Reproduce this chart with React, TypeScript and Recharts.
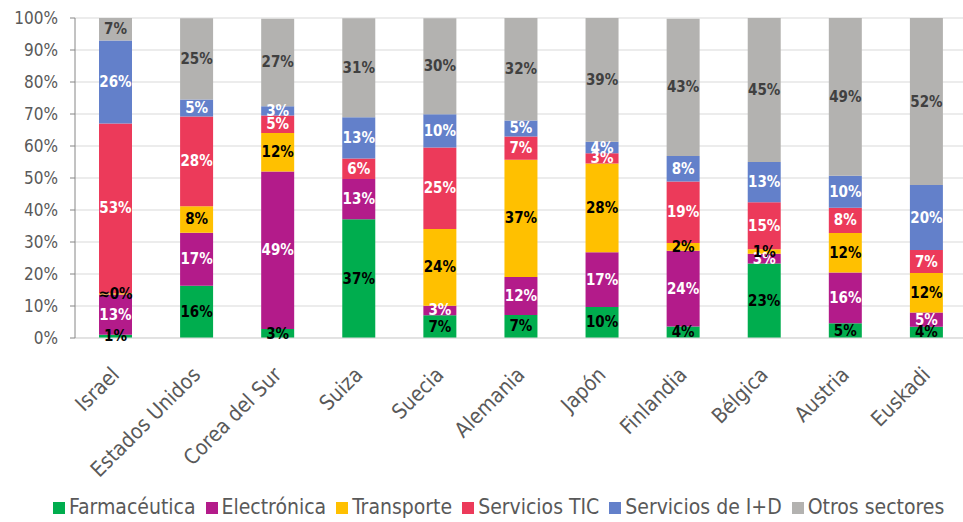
import React from 'react';
import {
  BarChart,
  Bar,
  XAxis,
  YAxis,
  CartesianGrid,
  Legend,
  LabelList
} from 'recharts';

const countries = [
  'Israel', 'Estados Unidos', 'Corea del Sur', 'Suiza', 'Suecia', 'Alemania',
  'Japón', 'Finlandia', 'Bélgica', 'Austria', 'Euskadi'
];

// shares in %
const farmaceutica = [1, 16.3, 2.8, 37.1, 7.1, 7.2, 9.7, 3.6, 23.3, 4.6, 3.5];
const electronica = [12.6, 16.6, 49.2, 12.6, 3, 11.9, 17.1, 23.7, 3, 15.9, 4.5];
const transporte = [0.4, 8.3, 12.1, 0, 24, 36.6, 27.7, 2.4, 1.4, 12.3, 12.3];
const serviciosTIC = [53, 28, 5.4, 6.4, 25.4, 7.3, 3.2, 19.2, 14.7, 7.9, 7.2];
const serviciosID = [26, 5.3, 2.9, 12.9, 10.4, 5, 3.6, 8, 12.6, 10, 20.3];
const otrosSectores = [7, 25.4, 27.4, 30.9, 30, 32, 38.7, 42.9, 45, 49.3, 52.2];

const yTicks = [0, 10, 20, 30, 40, 50, 60, 70, 80, 90, 100];

const FONT = "'DejaVu Sans Condensed', 'DejaVu Sans', sans-serif";

const series = [
  { key: 'farma', name: 'Farmacéutica', values: farmaceutica, color: '#00AD4E', text: '#000000' },
  { key: 'electr', name: 'Electrónica', values: electronica, color: '#B31B8A', text: '#FFFFFF' },
  { key: 'transp', name: 'Transporte', values: transporte, color: '#FFC000', text: '#000000' },
  { key: 'tic', name: 'Servicios TIC', values: serviciosTIC, color: '#EC3A5A', text: '#FFFFFF' },
  { key: 'id', name: 'Servicios de I+D', values: serviciosID, color: '#6380CA', text: '#FFFFFF' },
  { key: 'otros', name: 'Otros sectores', values: otrosSectores, color: '#B3B2B0', text: '#404040' }
];

const data = countries.map((c, i) => {
  const row: Record<string, string | number> = { country: c };
  series.forEach(s => { row[s.key] = s.values[i]; });
  return row;
});

const makeLabel = (color: string) => (props: any) => {
  const { x, y, width, height, value } = props;
  const v = Number(value);
  if (!v) return <g />;
  const txt = v < 0.5 ? '≈0%' : `${Math.round(v)}%`;
  return (
    <text
      x={Number(x) + Number(width) / 2}
      y={Number(y) + Number(height) / 2}
      textAnchor="middle"
      dominantBaseline="central"
      fill={color}
      fontSize={15}
      fontWeight="bold"
      fontFamily={FONT}
    >
      {txt}
    </text>
  );
};

const CountryTick = (props: any) => {
  const { x, y, payload } = props;
  return (
    <g transform={`translate(${x + 5},${y + 30})`}>
      <text textAnchor="end" transform="rotate(-45)" fill="#595959" fontSize={21} fontFamily={FONT}>
        {payload.value}
      </text>
    </g>
  );
};

const legendOrder = (item: any) => series.findIndex(s => s.name === item.value);

export default function App() {
  return (
    <div style={{ position: 'absolute', left: 0, top: 0, width: 963, height: 522, background: '#fff' }}>
      <BarChart
        width={963}
        height={522}
        data={data}
        margin={{ top: 18, right: -4, left: 0, bottom: 0 }}
        barSize={33}
      >
        <CartesianGrid vertical={false} stroke="#D9D9D9" />
        <XAxis
          dataKey="country"
          interval={0}
          height={154}
          tickLine={false}
          axisLine={{ stroke: '#D9D9D9' }}
          tick={<CountryTick />}
        />
        <YAxis
          width={75}
          domain={[0, 100]}
          ticks={yTicks}
          allowDataOverflow
          tickFormatter={(v: number) => `${v}%`}
          tickSize={5}
          tickMargin={12}
          axisLine={{ stroke: '#868686' }}
          tickLine={{ stroke: '#868686' }}
          tick={{ fill: '#595959', fontSize: 17, fontFamily: FONT }}
        />
        <Legend
          verticalAlign="bottom"
          align="left"
          height={30}
          iconType="square"
          iconSize={12}
          itemSorter={legendOrder}
          wrapperStyle={{ fontFamily: FONT, fontSize: 21, left: 53, bottom: -3 }}
          formatter={(value: string) => <span style={{ color: '#595959' }}>{value}</span>}
        />
        {series.map(s => (
          <Bar
            key={s.key}
            dataKey={s.key}
            name={s.name}
            stackId="a"
            fill={s.color}
            isAnimationActive={false}
          >
            <LabelList dataKey={s.key} content={makeLabel(s.text)} />
          </Bar>
        ))}
      </BarChart>
    </div>
  );
}
